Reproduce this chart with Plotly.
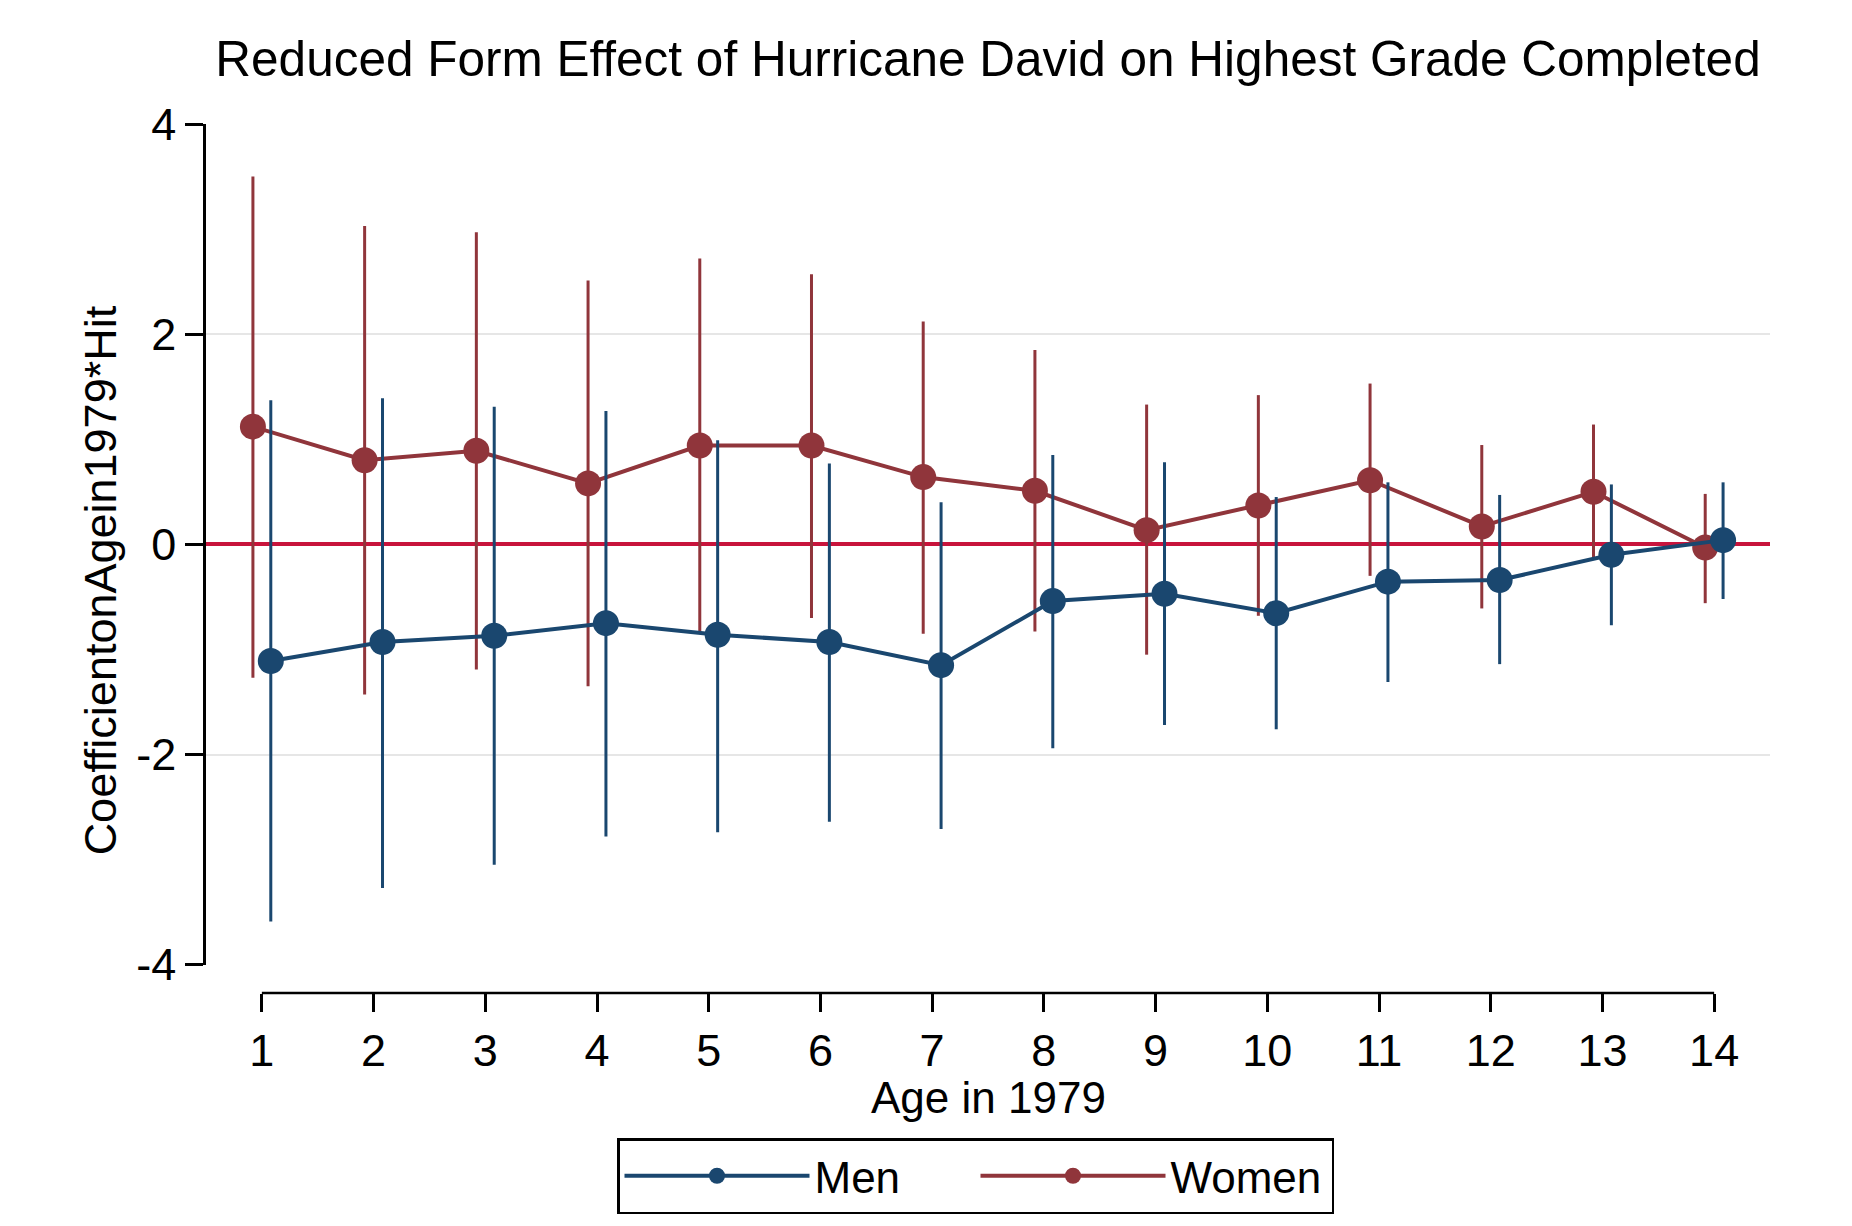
import plotly.graph_objects as go

# ---------------- data ----------------
ages = list(range(1, 15))

men_coef = [-1.11, -0.93, -0.87, -0.75, -0.86, -0.93, -1.15, -0.54, -0.47, -0.655, -0.355, -0.34, -0.10, 0.04]
men_hi = [1.37, 1.39, 1.31, 1.27, 0.99, 0.77, 0.40, 0.85, 0.78, 0.45, 0.59, 0.47, 0.57, 0.59]
men_lo = [-3.59, -3.27, -3.05, -2.78, -2.74, -2.64, -2.71, -1.94, -1.72, -1.76, -1.31, -1.14, -0.77, -0.52]

women_coef = [1.12, 0.80, 0.89, 0.58, 0.94, 0.94, 0.64, 0.51, 0.135, 0.37, 0.61, 0.17, 0.50, -0.03]
women_hi = [3.50, 3.03, 2.97, 2.51, 2.72, 2.57, 2.12, 1.85, 1.33, 1.42, 1.53, 0.945, 1.14, 0.48]
women_lo = [-1.27, -1.43, -1.19, -1.35, -0.84, -0.70, -0.85, -0.83, -1.05, -0.68, -0.30, -0.61, -0.14, -0.56]

x_ticks = ages
y_ticks = [-4, -2, 0, 2, 4]
y_ticklabels = ["-4", "-2", "0", "2", "4"]

title_text = "Reduced Form Effect of Hurricane David on Highest Grade Completed"
x_title = "Age in 1979"
y_title = "CoefficientonAgein1979*Hit"

# ---------------- style ----------------
NAVY = "#1A476F"
MAROON = "#90353B"
ZERO = "#C8143C"
GRID = "#E6E6E6"
FONT = "Liberation Sans, Arial, Helvetica, sans-serif"
OFFSET = 0.08

W, H = 1844, 1218          # page body has an 8px margin
L, R, T, B = 198, 82, 116, 228
PH = H - T - B             # paper height


def py(page_y):
    """paper y-fraction for a page pixel row"""
    return ((H - B) - (page_y - 8)) / PH


def px(page_x):
    return ((page_x - 8) - L) / (W - L - R)


fig = go.Figure()

fig.add_trace(go.Scatter(
    x=[a - OFFSET for a in ages], y=women_coef, name="Women", mode="lines+markers",
    line=dict(color=MAROON, width=4), marker=dict(color=MAROON, size=26),
    error_y=dict(type="data", symmetric=False,
                 array=[h - c for h, c in zip(women_hi, women_coef)],
                 arrayminus=[c - l for c, l in zip(women_coef, women_lo)],
                 color=MAROON, thickness=3, width=0),
    legendrank=2,
))
fig.add_trace(go.Scatter(
    x=[a + OFFSET for a in ages], y=men_coef, name="Men", mode="lines+markers",
    line=dict(color=NAVY, width=4), marker=dict(color=NAVY, size=26),
    error_y=dict(type="data", symmetric=False,
                 array=[h - c for h, c in zip(men_hi, men_coef)],
                 arrayminus=[c - l for c, l in zip(men_coef, men_lo)],
                 color=NAVY, thickness=3, width=0),
    legendrank=1,
))

# separate x-axis line spanning first to last tick (Stata style)
fig.add_shape(type="line", xref="x", yref="paper", x0=x_ticks[0], x1=x_ticks[-1], y0=0, y1=0,
              line=dict(color="black", width=2.5))

fig.add_annotation(text=y_title, xref="paper", yref="paper", x=px(100), y=py(583),
                   textangle=-90, showarrow=False, xanchor="center", yanchor="middle",
                   font=dict(family=FONT, size=45, color="black"))
fig.add_annotation(text=x_title, xref="paper", yref="paper", x=0.5, y=py(1103),
                   showarrow=False, xanchor="center", yanchor="middle",
                   font=dict(family=FONT, size=44, color="black"))

fig.update_layout(
    width=W, height=H,
    margin=dict(l=L, r=R, t=T, b=B),
    paper_bgcolor="white", plot_bgcolor="white",
    font=dict(family=FONT, color="black"),
    title=dict(text=title_text, x=0.5, xref="paper", xanchor="center",
               y=1 - 51 / H, yref="container", yanchor="middle",
               font=dict(family=FONT, size=49.5, color="black")),
    xaxis=dict(range=[0.5, 14.5], anchor="free", position=0, showline=False,
               ticks="outside", ticklen=18, tickwidth=2.5, tickcolor="black",
               tickvals=x_ticks, ticktext=[str(t) for t in x_ticks],
               tickfont=dict(family=FONT, size=45, color="black"),
               showgrid=False, zeroline=False),
    yaxis=dict(range=[-4, 4], domain=[0.0326, 1], showline=True, linecolor="black", linewidth=2.5,
               ticks="outside", ticklen=18, tickwidth=2.5, tickcolor="black",
               tickvals=y_ticks, ticktext=y_ticklabels,
               tickfont=dict(family=FONT, size=45, color="black"),
               showgrid=True, gridcolor=GRID, gridwidth=2,
               zeroline=True, zerolinecolor=ZERO, zerolinewidth=3.5),
    legend=dict(orientation="h", x=px(617), y=py(1144), xanchor="left", yanchor="top",
                bordercolor="black", borderwidth=2.5, bgcolor="white",
                font=dict(family=FONT, size=44, color="black"),
                itemwidth=185, entrywidth=156, entrywidthmode="pixels"),
    showlegend=True,
)

fig.write_html("out.html")
